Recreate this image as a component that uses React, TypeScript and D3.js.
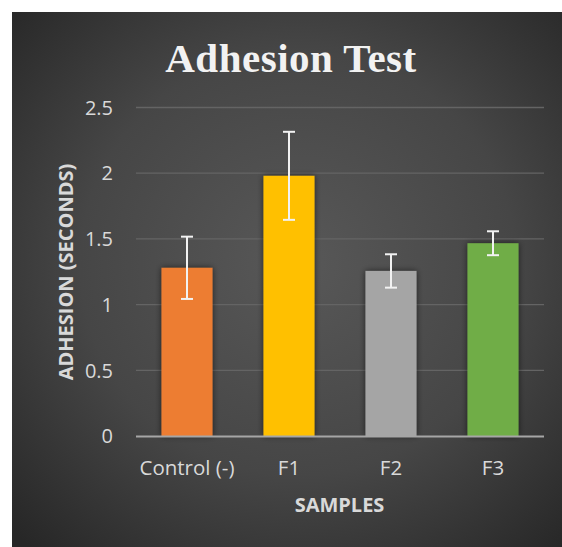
import React from "react";
import * as d3 from "d3";

const categories = ["Control (-)", "F1", "F2", "F3"];
const means = [1.28, 1.98, 1.256, 1.467];
const errors = [0.237, 0.335, 0.127, 0.091];
const barColors = ["#ED7D31", "#FFC000", "#A5A5A5", "#70AD47"];
const yTicks = [0, 0.5, 1, 1.5, 2, 2.5];
const yTickLabels = ["0", "0.5", "1", "1.5", "2", "2.5"];

const W = 562;
const H = 547;
const plot = { left: 136, right: 544, top: 107.5, bottom: 436 };

export default function App() {
  const x = d3
    .scaleBand<string>()
    .domain(categories)
    .range([plot.left, plot.right])
    .paddingInner(0.5)
    .paddingOuter(0.25);
  const y = d3.scaleLinear().domain([0, 2.5]).range([plot.bottom, plot.top]);
  const bw = x.bandwidth();
  const font = "'Open Sans', 'Liberation Sans', sans-serif";

  return (
    <svg
      width={W}
      height={H}
      style={{ position: "absolute", left: 0, top: 0, display: "block" }}
    >
      <defs>
        <radialGradient id="bg" cx="0.52" cy="0.47" r="0.72">
          <stop offset="0" stopColor="#585858" />
          <stop offset="0.55" stopColor="#464646" />
          <stop offset="1" stopColor="#272727" />
        </radialGradient>
        <filter id="shadow" x="-30%" y="-10%" width="160%" height="120%">
          <feGaussianBlur in="SourceAlpha" stdDeviation="3" />
          <feOffset dx="0" dy="0" result="b" />
          <feComponentTransfer>
            <feFuncA type="linear" slope="0.6" />
          </feComponentTransfer>
          <feMerge>
            <feMergeNode />
            <feMergeNode in="SourceGraphic" />
          </feMerge>
        </filter>
      </defs>
      <rect x={0} y={0} width={W} height={H} fill="#ffffff" />
      <rect x={12} y={12} width={W - 12} height={H - 12} fill="url(#bg)" />

      <text
        x={291}
        y={71.5}
        textAnchor="middle"
        fill="#f2f2f2"
        fontFamily="'Liberation Serif', 'Times New Roman', serif"
        fontWeight="bold"
        fontSize={41}
        letterSpacing={0.5}
      >
        Adhesion Test
      </text>

      {yTicks.map((t, i) =>
        t > 0 ? (
          <line
            key={"g" + i}
            x1={plot.left}
            x2={plot.right}
            y1={y(t)}
            y2={y(t)}
            stroke="#646464"
            strokeWidth={1.3}
          />
        ) : null
      )}

      {yTicks.map((t, i) => (
        <text
          key={"t" + i}
          x={113}
          y={y(t)}
          dy="0.36em"
          textAnchor="end"
          fill="#d9d9d9"
          fontFamily={font}
          fontSize={20}
        >
          {yTickLabels[i]}
        </text>
      ))}

      {categories.map((c, i) => (
        <rect
          key={"b" + i}
          x={x(c)}
          y={y(means[i])}
          width={bw}
          height={y(0) - y(means[i])}
          fill={barColors[i]}
          filter="url(#shadow)"
        />
      ))}

      <line
        x1={plot.left}
        x2={plot.right}
        y1={y(0) + 0.5}
        y2={y(0) + 0.5}
        stroke="#a6a6a6"
        strokeWidth={2}
      />

      {categories.map((c, i) => {
        const cx = (x(c) as number) + bw / 2;
        const top = y(means[i] + errors[i]);
        const bot = y(means[i] - errors[i]);
        return (
          <g key={"e" + i} stroke="#f2f2f2" strokeWidth={2}>
            <line x1={cx} x2={cx} y1={top} y2={bot} />
            <line x1={cx - 6} x2={cx + 6} y1={top} y2={top} />
            <line x1={cx - 6} x2={cx + 6} y1={bot} y2={bot} />
          </g>
        );
      })}

      {categories.map((c, i) => (
        <text
          key={"c" + i}
          x={(x(c) as number) + bw / 2}
          y={475}
          textAnchor="middle"
          fill="#d9d9d9"
          fontFamily={font}
          fontSize={20.5}
        >
          {c}
        </text>
      ))}

      <text
        x={339.5}
        y={512}
        textAnchor="middle"
        fill="#d9d9d9"
        fontFamily={font}
        fontWeight="bold"
        fontSize={20}
      >
        SAMPLES
      </text>

      <text
        transform={`translate(73, 272) rotate(-90)`}
        textAnchor="middle"
        fill="#d9d9d9"
        fontFamily={font}
        fontWeight="bold"
        fontSize={20}
      >
        ADHESION (SECONDS)
      </text>
    </svg>
  );
}
